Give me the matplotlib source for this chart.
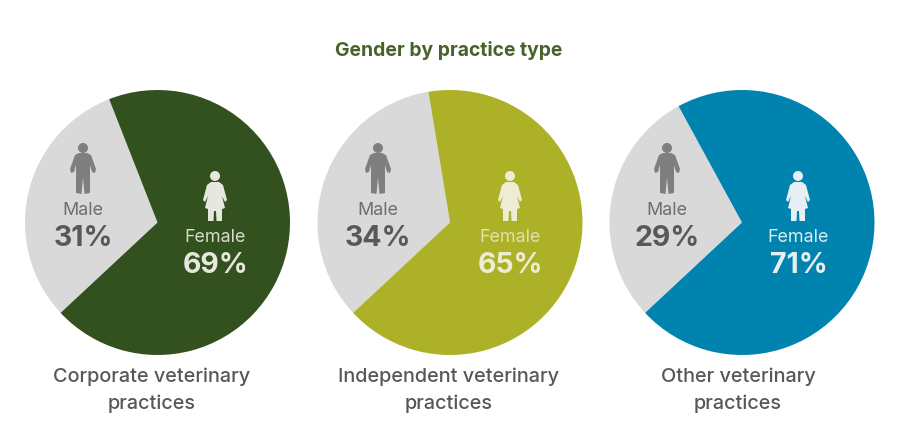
import matplotlib
matplotlib.use("Agg")
import matplotlib.pyplot as plt
from matplotlib.patches import Polygon, Circle

plt.rcParams['font.family'] = ['Inter', 'DejaVu Sans']

W, H = 900, 436
title = "Gender by practice type"
practices = ["Corporate veterinary\npractices", "Independent veterinary\npractices", "Other veterinary\npractices"]
male = [31, 34, 29]
female = [69, 65, 71]
colors = ["#33511f", "#adb128", "#0083ae"]
female_text = ["#d5dacb", "#dfe1b0", "#dcebf0"]
female_icon = ["#e6e8e0", "#ecedd2", "#e6f0f4"]
grey = "#d9d9d9"
icon_grey = "#7f7f7f"
dark_text = "#58585a"
male_label = "#6e6e70"

centers = [157.5, 450, 742]
radius = 132.5
cy = 222.5
male_x = [83, 378, 667]
female_x = [215, 510, 798]
label_x = [152, 449, 738]

MALE_SHAPE = [(-4, 5), (4, 5), (8, 7), (13, 21), (12, 25), (9, 24), (7, 17), (7, 45), (1.5, 46), (0, 30),
              (-1.5, 46), (-7, 45), (-7, 17), (-9, 24), (-12, 25), (-13, 21), (-8, 7)]
FEMALE_SHAPE = [(-4, 0), (4, 0), (8, 3), (12, 18), (10, 20), (7, 14), (10, 26), (7, 27), (7, 39), (1.5, 39), (1, 29),
                (-1, 29), (-1.5, 39), (-7, 39), (-7, 27), (-10, 26), (-7, 14), (-10, 20), (-12, 18), (-8, 3)]

fig = plt.figure(figsize=(W / 100, H / 100), dpi=100, facecolor="white")

for i, c in enumerate(centers):
    ax = fig.add_axes([(c - radius) / W, 1 - (cy + radius) / H, 2 * radius / W, 2 * radius / H])
    ax.pie([male[i], female[i]], colors=[grey, colors[i]], startangle=223, counterclock=False,
           radius=1, wedgeprops=dict(linewidth=0))
    ax.set_xlim(-1, 1)
    ax.set_ylim(-1, 1)

ov = fig.add_axes([0, 0, 1, 1], facecolor="none")
ov.set_xlim(0, W)
ov.set_ylim(H, 0)
ov.axis("off")

ov.text(449, 50, title, ha="center", va="center", fontsize=13.9, fontweight="bold", color="#47632b")

for i in range(3):
    mx, fx = male_x[i], female_x[i]
    ov.add_patch(Circle((mx, 148), 5, color=icon_grey, lw=0))
    ov.add_patch(Polygon([(mx + a, 148 + b) for a, b in MALE_SHAPE], closed=True, color=icon_grey, lw=0))
    ov.add_patch(Circle((fx, 176), 5, color=female_icon[i], lw=0))
    ov.add_patch(Polygon([(fx + a, 182 + b) for a, b in FEMALE_SHAPE], closed=True, color=female_icon[i], lw=0))
    ov.text(mx, 210, "Male", ha="center", va="center", fontsize=12.9, color=male_label)
    ov.text(mx, 238.5, f"{male[i]}%", ha="center", va="center", fontsize=20.5, fontweight="bold", color=dark_text)
    ov.text(fx, 237, "Female", ha="center", va="center", fontsize=12.9, color=female_text[i])
    ov.text(fx + 0.5, 265, f"{female[i]}%", ha="center", va="center", fontsize=20.5, fontweight="bold", color=female_icon[i])
    for j, line in enumerate(practices[i].split("\n")):
        ov.text(label_x[i], 377 + 27 * j, line, ha="center", va="center", fontsize=14.3,
                fontweight="medium", color=dark_text)

fig.savefig("out.png", dpi=100, facecolor="white")
